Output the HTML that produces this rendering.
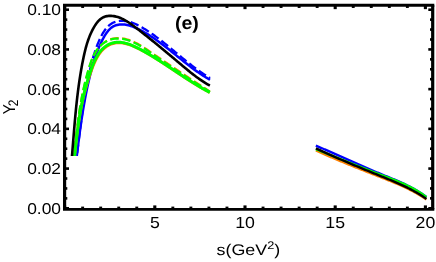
<!DOCTYPE html>
<html><head><meta charset="utf-8"><title>plot</title>
<style>
html,body{margin:0;padding:0;background:#fff;}
svg{display:block;will-change:transform;}
text{font-family:"Liberation Sans",sans-serif;fill:#000;text-rendering:geometricPrecision;}
</style></head>
<body>
<svg width="436" height="262" viewBox="0 0 436 262">
<rect width="436" height="262" fill="#fff"/>
<defs><clipPath id="cl"><rect x="60" y="0" width="160" height="156"/></clipPath></defs>
<g stroke-linecap="butt" stroke-linejoin="round">
<path d="M76.78,155.95 L76.93,154.71 L77.08,153.47 L77.23,152.23 L77.38,150.99 L77.53,149.74 L77.69,148.50 L77.84,147.25 L77.99,146.00 L78.15,144.76 L78.30,143.51 L78.46,142.26 L78.62,141.01 L78.78,139.76 L78.94,138.51 L79.10,137.25 L79.26,136.00 L79.42,134.75 L79.59,133.50 L79.76,132.24 L79.93,130.99 L80.10,129.74 L80.27,128.48 L80.44,127.23 L80.62,125.97 L80.80,124.72 L80.98,123.47 L81.16,122.21 L81.34,120.96 L81.53,119.70 L81.72,118.45 L81.91,117.20 L82.10,115.94 L82.29,114.69 L82.49,113.44 L82.69,112.18 L82.89,110.93 L83.10,109.68 L83.31,108.43 L83.52,107.18 L83.73,105.93 L83.95,104.68 L84.17,103.43 L84.39,102.18 L84.61,100.94 L84.84,99.69 L85.07,98.45 L85.31,97.20 L85.55,95.96 L85.79,94.72 L86.03,93.48 L86.28,92.24 L86.53,91.00 L86.79,89.76 L87.04,88.52 L87.31,87.29 L87.57,86.06 L87.84,84.82 L88.12,83.59 L88.40,82.36 L88.68,81.14 L88.96,79.91 L89.25,78.68 L89.55,77.46 L89.84,76.24 L90.15,75.02 L90.45,73.80 L90.77,72.59 L91.08,71.38 L91.40,70.16 L91.73,68.95 L92.06,67.75 L92.39,66.54 L92.73,65.34 L93.08,64.13 L93.44,62.93 L93.80,61.74 L94.17,60.54 L94.55,59.35 L94.93,58.16 L95.33,56.97 L95.73,55.78 L96.15,54.59 L96.57,53.41 L97.01,52.23 L97.46,51.05 L97.92,49.87 L98.39,48.70 L98.88,47.52 L99.38,46.35 L99.89,45.18 L100.42,44.01 L100.96,42.85 L101.52,41.69 L102.09,40.53 L102.68,39.37 L103.29,38.21 L103.92,37.07 L104.57,35.94 L105.24,34.83 L105.94,33.74 L106.67,32.69 L107.44,31.68 L108.23,30.71 L109.07,29.78 L109.94,28.91 L110.86,28.10 L111.82,27.36 L112.82,26.69 L113.87,26.11 L114.96,25.62 L116.08,25.23 L117.24,24.91 L118.43,24.68 L119.64,24.53 L120.86,24.45 L122.11,24.44 L123.36,24.49 L124.61,24.61 L125.87,24.78 L127.12,25.01 L128.37,25.29 L129.60,25.61 L130.82,25.98 L132.03,26.38 L133.22,26.83 L134.41,27.30 L135.59,27.80 L136.75,28.33 L137.91,28.88 L139.05,29.44 L140.19,30.03 L141.32,30.62 L142.44,31.22 L143.55,31.84 L144.66,32.47 L145.75,33.10 L146.84,33.75 L147.92,34.41 L148.99,35.07 L150.06,35.75 L151.12,36.43 L152.17,37.12 L153.22,37.82 L154.26,38.53 L155.30,39.24 L156.33,39.96 L157.36,40.69 L158.38,41.43 L159.39,42.17 L160.41,42.92 L161.41,43.67 L162.42,44.43 L163.42,45.19 L164.42,45.95 L165.41,46.73 L166.40,47.50 L167.39,48.28 L168.38,49.06 L169.36,49.84 L170.35,50.63 L171.33,51.42 L172.31,52.21 L173.29,53.00 L174.27,53.79 L175.24,54.59 L176.22,55.38 L177.20,56.18 L178.18,56.97 L179.16,57.77 L180.14,58.56 L181.12,59.35 L182.10,60.14 L183.08,60.93 L184.07,61.72 L185.06,62.50 L186.05,63.28 L187.04,64.06 L188.03,64.84 L189.03,65.61 L190.03,66.38 L191.04,67.14 L192.05,67.90 L193.06,68.65 L194.08,69.40 L195.10,70.14 L196.13,70.88 L197.16,71.61 L198.20,72.33 L199.24,73.05 L200.29,73.76 L201.34,74.46 L202.40,75.16 L203.47,75.84 L204.55,76.52 L205.63,77.19 L206.72,77.84 L207.82,78.49 L208.92,79.13 L210.04,79.76" fill="none" stroke="#0000ff" stroke-width="2.5" clip-path="url(#cl)"/>
<path d="M76.78,155.97 L76.94,154.70 L77.10,153.43 L77.26,152.15 L77.42,150.88 L77.57,149.61 L77.73,148.33 L77.89,147.06 L78.05,145.78 L78.21,144.51 L78.37,143.23 L78.52,141.95 L78.68,140.67 L78.84,139.39 L79.00,138.11 L79.16,136.84 L79.32,135.56 L79.48,134.28 L79.64,132.99 L79.80,131.71 L79.97,130.43 L80.13,129.15 L80.30,127.87 L80.46,126.59 L80.63,125.31 L80.80,124.03 L80.97,122.74 L81.14,121.46 L81.31,120.18 L81.48,118.90 L81.66,117.62 L81.83,116.34 L82.01,115.06 L82.19,113.77 L82.37,112.49 L82.56,111.21 L82.74,109.93 L82.93,108.65 L83.12,107.37 L83.31,106.09 L83.50,104.82 L83.70,103.54 L83.90,102.26 L84.10,100.98 L84.30,99.71 L84.51,98.43 L84.72,97.16 L84.93,95.88 L85.14,94.61 L85.36,93.34 L85.58,92.06 L85.80,90.79 L86.03,89.52 L86.26,88.25 L86.49,86.99 L86.72,85.72 L86.96,84.45 L87.20,83.19 L87.45,81.92 L87.70,80.66 L87.95,79.40 L88.21,78.14 L88.47,76.88 L88.73,75.62 L89.00,74.36 L89.27,73.11 L89.55,71.85 L89.83,70.60 L90.11,69.35 L90.40,68.10 L90.69,66.85 L90.99,65.60 L91.30,64.36 L91.61,63.11 L91.93,61.87 L92.26,60.63 L92.59,59.40 L92.93,58.16 L93.28,56.93 L93.65,55.69 L94.02,54.47 L94.40,53.24 L94.79,52.01 L95.19,50.79 L95.61,49.57 L96.04,48.36 L96.48,47.14 L96.94,45.93 L97.41,44.72 L97.89,43.52 L98.39,42.32 L98.90,41.12 L99.43,39.92 L99.98,38.73 L100.54,37.54 L101.13,36.36 L101.74,35.20 L102.37,34.06 L103.02,32.94 L103.71,31.84 L104.42,30.77 L105.17,29.73 L105.94,28.73 L106.76,27.77 L107.61,26.86 L108.49,25.99 L109.42,25.18 L110.39,24.42 L111.40,23.73 L112.45,23.10 L113.55,22.54 L114.69,22.07 L115.88,21.67 L117.11,21.35 L118.38,21.11 L119.67,20.95 L120.98,20.86 L122.30,20.83 L123.63,20.88 L124.95,20.99 L126.26,21.15 L127.55,21.38 L128.82,21.66 L130.07,21.99 L131.30,22.37 L132.52,22.79 L133.73,23.25 L134.92,23.75 L136.10,24.28 L137.26,24.85 L138.42,25.43 L139.56,26.04 L140.69,26.67 L141.81,27.32 L142.93,27.98 L144.04,28.65 L145.14,29.33 L146.23,30.01 L147.32,30.71 L148.40,31.42 L149.47,32.13 L150.54,32.85 L151.60,33.58 L152.65,34.31 L153.70,35.06 L154.75,35.81 L155.79,36.56 L156.83,37.33 L157.86,38.10 L158.88,38.87 L159.91,39.65 L160.93,40.43 L161.94,41.22 L162.95,42.02 L163.96,42.81 L164.97,43.61 L165.97,44.42 L166.98,45.23 L167.98,46.04 L168.97,46.85 L169.97,47.67 L170.96,48.48 L171.96,49.30 L172.95,50.12 L173.94,50.95 L174.93,51.77 L175.92,52.59 L176.91,53.41 L177.91,54.24 L178.90,55.06 L179.89,55.88 L180.88,56.70 L181.88,57.52 L182.87,58.34 L183.87,59.15 L184.87,59.97 L185.87,60.78 L186.88,61.58 L187.89,62.39 L188.89,63.19 L189.91,63.99 L190.92,64.78 L191.94,65.57 L192.97,66.35 L193.99,67.13 L195.03,67.91 L196.06,68.68 L197.10,69.44 L198.15,70.20 L199.20,70.95 L200.26,71.69 L201.32,72.43 L202.39,73.15 L203.46,73.88 L204.54,74.59 L205.63,75.29 L206.72,75.99 L207.83,76.68 L208.93,77.36 L210.05,78.02" fill="none" stroke="#0000ff" stroke-width="2.3" stroke-dasharray="8.5 3.5" stroke-dashoffset="9.0" clip-path="url(#cl)"/>
<path d="M74.60,156.15 L74.72,154.94 L74.83,153.73 L74.95,152.52 L75.07,151.32 L75.19,150.12 L75.31,148.92 L75.44,147.73 L75.56,146.53 L75.69,145.35 L75.82,144.16 L75.94,142.98 L76.08,141.80 L76.21,140.62 L76.34,139.44 L76.48,138.27 L76.62,137.10 L76.76,135.93 L76.90,134.76 L77.05,133.60 L77.20,132.44 L77.35,131.28 L77.50,130.12 L77.66,128.96 L77.82,127.81 L77.98,126.66 L78.14,125.51 L78.31,124.36 L78.48,123.21 L78.66,122.06 L78.83,120.92 L79.01,119.78 L79.20,118.63 L79.39,117.49 L79.58,116.35 L79.77,115.21 L79.97,114.08 L80.18,112.94 L80.38,111.80 L80.59,110.67 L80.81,109.53 L81.03,108.40 L81.25,107.27 L81.48,106.14 L81.72,105.00 L81.95,103.87 L82.20,102.74 L82.44,101.61 L82.70,100.48 L82.95,99.35 L83.22,98.22 L83.48,97.09 L83.76,95.96 L84.04,94.83 L84.32,93.70 L84.61,92.57 L84.90,91.43 L85.20,90.30 L85.51,89.17 L85.82,88.04 L86.14,86.90 L86.46,85.77 L86.80,84.64 L87.13,83.50 L87.48,82.36 L87.82,81.23 L88.18,80.09 L88.54,78.95 L88.91,77.81 L89.29,76.67 L89.67,75.53 L90.06,74.38 L90.46,73.24 L90.86,72.09 L91.27,70.94 L91.69,69.79 L92.12,68.64 L92.55,67.49 L93.00,66.35 L93.46,65.21 L93.93,64.07 L94.41,62.95 L94.91,61.84 L95.43,60.73 L95.96,59.65 L96.51,58.58 L97.08,57.53 L97.67,56.50 L98.28,55.49 L98.92,54.50 L99.58,53.55 L100.26,52.62 L100.97,51.71 L101.71,50.84 L102.48,50.01 L103.28,49.21 L104.11,48.45 L104.97,47.72 L105.86,47.04 L106.79,46.40 L107.74,45.80 L108.72,45.26 L109.72,44.76 L110.75,44.31 L111.80,43.92 L112.86,43.58 L113.95,43.30 L115.04,43.07 L116.16,42.91 L117.28,42.81 L118.41,42.76 L119.56,42.76 L120.70,42.82 L121.86,42.93 L123.01,43.08 L124.17,43.28 L125.32,43.52 L126.48,43.80 L127.62,44.11 L128.77,44.46 L129.90,44.84 L131.03,45.25 L132.14,45.68 L133.25,46.15 L134.35,46.63 L135.44,47.13 L136.53,47.65 L137.60,48.18 L138.68,48.73 L139.74,49.28 L140.80,49.84 L141.86,50.41 L142.91,50.98 L143.95,51.56 L144.99,52.14 L146.02,52.72 L147.05,53.31 L148.08,53.90 L149.10,54.50 L150.12,55.10 L151.13,55.71 L152.14,56.31 L153.15,56.93 L154.15,57.54 L155.15,58.16 L156.15,58.78 L157.14,59.40 L158.13,60.03 L159.12,60.66 L160.11,61.29 L161.09,61.92 L162.07,62.55 L163.05,63.19 L164.03,63.83 L165.01,64.47 L165.98,65.11 L166.95,65.75 L167.93,66.39 L168.90,67.04 L169.87,67.68 L170.84,68.33 L171.80,68.98 L172.77,69.62 L173.74,70.27 L174.71,70.92 L175.68,71.57 L176.65,72.21 L177.61,72.86 L178.58,73.51 L179.55,74.15 L180.52,74.80 L181.50,75.44 L182.47,76.08 L183.44,76.72 L184.42,77.36 L185.40,78.00 L186.38,78.64 L187.36,79.28 L188.34,79.91 L189.33,80.54 L190.31,81.17 L191.30,81.80 L192.30,82.42 L193.29,83.04 L194.29,83.66 L195.30,84.27 L196.30,84.89 L197.31,85.50 L198.33,86.10 L199.34,86.70 L200.36,87.30 L201.39,87.89 L202.42,88.49 L203.45,89.07 L204.49,89.65 L205.54,90.23 L206.58,90.80 L207.64,91.37 L208.70,91.93 L209.76,92.49" fill="none" stroke="#ff8000" stroke-width="2.8" clip-path="url(#cl)"/>
<path d="M74.61,156.11 L74.70,154.87 L74.79,153.63 L74.89,152.39 L74.98,151.15 L75.08,149.92 L75.18,148.68 L75.28,147.45 L75.38,146.23 L75.48,145.00 L75.59,143.78 L75.70,142.56 L75.81,141.34 L75.92,140.12 L76.03,138.91 L76.15,137.70 L76.27,136.49 L76.39,135.28 L76.51,134.07 L76.64,132.87 L76.77,131.66 L76.90,130.46 L77.04,129.26 L77.17,128.06 L77.31,126.86 L77.46,125.67 L77.60,124.47 L77.75,123.28 L77.90,122.09 L78.06,120.90 L78.22,119.71 L78.38,118.52 L78.54,117.33 L78.71,116.14 L78.88,114.96 L79.06,113.77 L79.24,112.58 L79.42,111.40 L79.61,110.22 L79.80,109.03 L79.99,107.85 L80.19,106.67 L80.39,105.49 L80.60,104.30 L80.81,103.12 L81.02,101.94 L81.24,100.76 L81.46,99.58 L81.69,98.40 L81.92,97.22 L82.15,96.04 L82.39,94.86 L82.64,93.68 L82.89,92.49 L83.14,91.31 L83.40,90.13 L83.66,88.95 L83.93,87.77 L84.21,86.58 L84.48,85.40 L84.77,84.21 L85.06,83.03 L85.35,81.84 L85.65,80.65 L85.95,79.47 L86.26,78.28 L86.58,77.09 L86.90,75.89 L87.23,74.70 L87.56,73.51 L87.90,72.31 L88.24,71.12 L88.59,69.92 L88.94,68.72 L89.31,67.52 L89.68,66.33 L90.06,65.13 L90.45,63.94 L90.86,62.76 L91.27,61.58 L91.71,60.41 L92.16,59.26 L92.63,58.11 L93.12,56.98 L93.64,55.87 L94.17,54.77 L94.74,53.69 L95.32,52.63 L95.94,51.59 L96.58,50.58 L97.26,49.59 L97.96,48.62 L98.71,47.69 L99.48,46.79 L100.29,45.91 L101.13,45.07 L102.01,44.27 L102.91,43.51 L103.84,42.79 L104.80,42.11 L105.79,41.48 L106.80,40.90 L107.84,40.37 L108.89,39.89 L109.97,39.47 L111.07,39.10 L112.19,38.80 L113.32,38.55 L114.47,38.36 L115.63,38.23 L116.80,38.15 L117.98,38.12 L119.17,38.15 L120.36,38.22 L121.55,38.33 L122.75,38.50 L123.95,38.70 L125.14,38.94 L126.33,39.23 L127.51,39.55 L128.69,39.91 L129.85,40.30 L131.00,40.72 L132.15,41.18 L133.28,41.66 L134.40,42.17 L135.50,42.70 L136.60,43.26 L137.70,43.84 L138.78,44.44 L139.85,45.06 L140.92,45.69 L141.98,46.34 L143.03,47.00 L144.08,47.67 L145.12,48.35 L146.16,49.04 L147.19,49.73 L148.22,50.43 L149.25,51.13 L150.27,51.83 L151.29,52.52 L152.31,53.22 L153.32,53.91 L154.34,54.60 L155.35,55.29 L156.36,55.98 L157.37,56.67 L158.38,57.35 L159.38,58.03 L160.39,58.71 L161.39,59.39 L162.39,60.07 L163.39,60.75 L164.39,61.42 L165.39,62.10 L166.39,62.77 L167.39,63.44 L168.38,64.11 L169.38,64.78 L170.37,65.45 L171.37,66.12 L172.37,66.79 L173.36,67.45 L174.35,68.12 L175.35,68.78 L176.34,69.45 L177.34,70.11 L178.33,70.77 L179.33,71.44 L180.33,72.10 L181.32,72.76 L182.32,73.43 L183.32,74.09 L184.32,74.75 L185.32,75.41 L186.32,76.07 L187.32,76.74 L188.32,77.40 L189.33,78.06 L190.33,78.73 L191.34,79.39 L192.35,80.06 L193.36,80.72 L194.37,81.39 L195.38,82.05 L196.40,82.72 L197.42,83.39 L198.44,84.06 L199.46,84.73 L200.49,85.40 L201.51,86.07 L202.54,86.74 L203.57,87.42 L204.61,88.09 L205.65,88.77 L206.69,89.45 L207.73,90.13 L208.78,90.81 L209.82,91.50" fill="none" stroke="#ff8000" stroke-width="2.2" stroke-dasharray="8.5 3.5" stroke-dashoffset="5.5" clip-path="url(#cl)"/>
<path d="M74.53,156.16 L74.66,154.94 L74.80,153.72 L74.94,152.51 L75.07,151.30 L75.21,150.09 L75.34,148.89 L75.48,147.69 L75.61,146.49 L75.75,145.30 L75.89,144.11 L76.03,142.92 L76.16,141.73 L76.30,140.55 L76.44,139.37 L76.58,138.19 L76.72,137.01 L76.87,135.84 L77.01,134.67 L77.16,133.50 L77.31,132.33 L77.46,131.17 L77.61,130.00 L77.76,128.84 L77.92,127.68 L78.07,126.52 L78.23,125.37 L78.40,124.21 L78.56,123.06 L78.73,121.91 L78.90,120.76 L79.07,119.61 L79.25,118.46 L79.43,117.32 L79.61,116.17 L79.80,115.03 L79.99,113.88 L80.18,112.74 L80.38,111.60 L80.58,110.46 L80.78,109.32 L80.99,108.18 L81.20,107.04 L81.42,105.90 L81.64,104.76 L81.86,103.62 L82.09,102.49 L82.33,101.35 L82.57,100.21 L82.81,99.07 L83.06,97.94 L83.32,96.80 L83.58,95.66 L83.84,94.52 L84.11,93.39 L84.39,92.25 L84.67,91.11 L84.96,89.97 L85.25,88.83 L85.55,87.69 L85.86,86.55 L86.17,85.41 L86.49,84.26 L86.82,83.12 L87.15,81.97 L87.49,80.83 L87.83,79.68 L88.19,78.53 L88.55,77.38 L88.91,76.23 L89.29,75.08 L89.67,73.93 L90.06,72.77 L90.46,71.61 L90.86,70.45 L91.27,69.29 L91.69,68.13 L92.13,66.97 L92.57,65.82 L93.02,64.67 L93.49,63.52 L93.97,62.39 L94.47,61.26 L94.98,60.15 L95.52,59.06 L96.07,57.98 L96.64,56.92 L97.23,55.88 L97.85,54.87 L98.48,53.88 L99.15,52.91 L99.84,51.98 L100.55,51.07 L101.30,50.20 L102.07,49.36 L102.88,48.56 L103.71,47.80 L104.58,47.08 L105.48,46.40 L106.42,45.76 L107.38,45.18 L108.36,44.64 L109.38,44.15 L110.41,43.71 L111.47,43.32 L112.54,43.00 L113.63,42.73 L114.74,42.52 L115.86,42.37 L116.99,42.28 L118.13,42.24 L119.27,42.26 L120.43,42.34 L121.59,42.46 L122.75,42.62 L123.91,42.83 L125.07,43.09 L126.23,43.38 L127.38,43.70 L128.52,44.06 L129.66,44.45 L130.79,44.87 L131.91,45.32 L133.02,45.79 L134.12,46.28 L135.22,46.79 L136.31,47.32 L137.39,47.86 L138.46,48.41 L139.53,48.97 L140.60,49.53 L141.66,50.10 L142.71,50.68 L143.76,51.26 L144.80,51.84 L145.84,52.43 L146.87,53.02 L147.90,53.62 L148.93,54.22 L149.95,54.82 L150.97,55.42 L151.99,56.03 L153.00,56.65 L154.00,57.26 L155.01,57.88 L156.01,58.50 L157.01,59.13 L158.00,59.75 L159.00,60.38 L159.99,61.01 L160.97,61.65 L161.96,62.28 L162.94,62.92 L163.93,63.56 L164.91,64.20 L165.88,64.84 L166.86,65.48 L167.84,66.12 L168.81,66.77 L169.79,67.42 L170.76,68.06 L171.73,68.71 L172.71,69.36 L173.68,70.01 L174.65,70.65 L175.62,71.30 L176.60,71.95 L177.57,72.60 L178.54,73.25 L179.52,73.89 L180.49,74.54 L181.47,75.19 L182.44,75.83 L183.42,76.48 L184.40,77.12 L185.38,77.76 L186.36,78.40 L187.35,79.04 L188.34,79.68 L189.32,80.32 L190.32,80.95 L191.31,81.58 L192.31,82.21 L193.31,82.84 L194.31,83.46 L195.31,84.08 L196.32,84.70 L197.33,85.32 L198.35,85.93 L199.37,86.54 L200.39,87.15 L201.42,87.75 L202.45,88.35 L203.49,88.95 L204.53,89.54 L205.58,90.13 L206.63,90.72 L207.68,91.30 L208.74,91.87 L209.81,92.45" fill="none" stroke="#00ff00" stroke-width="3.0" clip-path="url(#cl)"/>
<path d="M74.57,156.11 L74.67,154.86 L74.77,153.63 L74.88,152.39 L74.98,151.16 L75.09,149.93 L75.19,148.70 L75.30,147.47 L75.41,146.25 L75.52,145.03 L75.63,143.81 L75.74,142.59 L75.86,141.37 L75.97,140.16 L76.09,138.95 L76.21,137.74 L76.33,136.53 L76.45,135.32 L76.57,134.12 L76.70,132.91 L76.82,131.71 L76.95,130.51 L77.09,129.31 L77.22,128.12 L77.36,126.92 L77.50,125.73 L77.64,124.53 L77.78,123.34 L77.93,122.15 L78.08,120.96 L78.23,119.77 L78.39,118.58 L78.54,117.39 L78.71,116.21 L78.87,115.02 L79.04,113.83 L79.21,112.65 L79.39,111.47 L79.56,110.28 L79.75,109.10 L79.93,107.92 L80.12,106.74 L80.31,105.55 L80.51,104.37 L80.71,103.19 L80.92,102.01 L81.13,100.83 L81.34,99.65 L81.56,98.47 L81.78,97.29 L82.01,96.11 L82.24,94.93 L82.48,93.74 L82.72,92.56 L82.96,91.38 L83.22,90.20 L83.47,89.02 L83.73,87.83 L84.00,86.65 L84.27,85.46 L84.55,84.28 L84.83,83.09 L85.12,81.91 L85.41,80.72 L85.71,79.53 L86.01,78.34 L86.32,77.15 L86.64,75.96 L86.96,74.77 L87.29,73.58 L87.62,72.38 L87.96,71.19 L88.31,69.99 L88.67,68.79 L89.03,67.59 L89.40,66.40 L89.78,65.20 L90.17,64.02 L90.58,62.83 L91.00,61.66 L91.44,60.50 L91.90,59.34 L92.37,58.20 L92.87,57.08 L93.39,55.97 L93.93,54.88 L94.50,53.81 L95.09,52.75 L95.71,51.72 L96.37,50.72 L97.05,49.74 L97.76,48.78 L98.51,47.86 L99.29,46.96 L100.11,46.10 L100.96,45.27 L101.84,44.48 L102.74,43.73 L103.68,43.03 L104.65,42.36 L105.63,41.74 L106.65,41.18 L107.69,40.66 L108.74,40.19 L109.82,39.79 L110.92,39.44 L112.04,39.15 L113.17,38.92 L114.32,38.74 L115.48,38.62 L116.65,38.55 L117.82,38.53 L119.01,38.56 L120.20,38.64 L121.39,38.77 L122.58,38.94 L123.78,39.15 L124.97,39.40 L126.15,39.69 L127.33,40.01 L128.50,40.38 L129.67,40.77 L130.82,41.20 L131.96,41.66 L133.09,42.14 L134.21,42.65 L135.32,43.19 L136.42,43.75 L137.51,44.33 L138.59,44.93 L139.67,45.55 L140.73,46.18 L141.80,46.83 L142.85,47.49 L143.90,48.16 L144.94,48.84 L145.98,49.53 L147.01,50.23 L148.04,50.92 L149.07,51.62 L150.09,52.32 L151.11,53.02 L152.12,53.72 L153.14,54.41 L154.15,55.11 L155.16,55.80 L156.16,56.49 L157.17,57.18 L158.17,57.86 L159.17,58.55 L160.17,59.23 L161.17,59.92 L162.16,60.60 L163.16,61.28 L164.15,61.96 L165.14,62.64 L166.14,63.31 L167.13,63.99 L168.12,64.66 L169.11,65.33 L170.10,66.00 L171.08,66.67 L172.07,67.34 L173.06,68.01 L174.05,68.68 L175.04,69.35 L176.03,70.01 L177.02,70.68 L178.01,71.34 L179.00,72.00 L179.99,72.66 L180.99,73.33 L181.98,73.99 L182.98,74.65 L183.97,75.30 L184.97,75.96 L185.97,76.62 L186.98,77.28 L187.98,77.94 L188.99,78.59 L189.99,79.25 L191.00,79.90 L192.02,80.56 L193.03,81.21 L194.05,81.87 L195.07,82.52 L196.09,83.17 L197.12,83.83 L198.15,84.48 L199.19,85.13 L200.22,85.78 L201.26,86.44 L202.31,87.09 L203.35,87.74 L204.41,88.39 L205.46,89.05 L206.52,89.70 L207.59,90.35 L208.66,91.00 L209.73,91.66" fill="none" stroke="#00ff00" stroke-width="2.2" stroke-dasharray="8.5 3.5" stroke-dashoffset="5.5" clip-path="url(#cl)"/>
<path d="M71.97,156.00 L72.09,154.62 L72.20,153.25 L72.32,151.87 L72.43,150.49 L72.54,149.11 L72.65,147.73 L72.77,146.35 L72.88,144.97 L72.99,143.59 L73.10,142.21 L73.21,140.83 L73.32,139.45 L73.44,138.07 L73.55,136.69 L73.66,135.31 L73.77,133.93 L73.89,132.55 L74.00,131.17 L74.11,129.79 L74.23,128.40 L74.35,127.02 L74.46,125.64 L74.58,124.26 L74.70,122.88 L74.82,121.50 L74.95,120.12 L75.07,118.74 L75.19,117.36 L75.32,115.97 L75.45,114.59 L75.58,113.21 L75.71,111.83 L75.85,110.45 L75.98,109.08 L76.12,107.70 L76.26,106.32 L76.41,104.94 L76.55,103.56 L76.70,102.18 L76.85,100.81 L77.01,99.43 L77.16,98.05 L77.32,96.68 L77.49,95.30 L77.65,93.93 L77.82,92.55 L77.99,91.18 L78.17,89.81 L78.35,88.43 L78.53,87.06 L78.71,85.69 L78.90,84.32 L79.10,82.95 L79.30,81.58 L79.50,80.21 L79.70,78.85 L79.91,77.48 L80.13,76.11 L80.35,74.75 L80.57,73.39 L80.80,72.02 L81.03,70.66 L81.26,69.30 L81.51,67.94 L81.75,66.58 L82.00,65.22 L82.26,63.86 L82.52,62.51 L82.79,61.15 L83.06,59.80 L83.34,58.44 L83.62,57.09 L83.91,55.74 L84.21,54.39 L84.52,53.05 L84.83,51.70 L85.16,50.36 L85.50,49.02 L85.85,47.68 L86.21,46.35 L86.60,45.01 L86.99,43.69 L87.41,42.36 L87.84,41.04 L88.30,39.73 L88.77,38.41 L89.27,37.11 L89.79,35.81 L90.33,34.51 L90.90,33.22 L91.50,31.93 L92.13,30.65 L92.78,29.38 L93.46,28.11 L94.18,26.86 L94.93,25.64 L95.71,24.44 L96.53,23.29 L97.39,22.20 L98.29,21.16 L99.24,20.19 L100.22,19.31 L101.26,18.51 L102.33,17.81 L103.46,17.22 L104.64,16.73 L105.86,16.36 L107.12,16.09 L108.41,15.92 L109.72,15.85 L111.06,15.86 L112.41,15.96 L113.77,16.13 L115.13,16.38 L116.49,16.71 L117.85,17.09 L119.18,17.54 L120.50,18.04 L121.80,18.60 L123.07,19.20 L124.32,19.85 L125.55,20.53 L126.76,21.25 L127.95,22.00 L129.13,22.78 L130.29,23.58 L131.44,24.40 L132.58,25.23 L133.71,26.08 L134.83,26.93 L135.95,27.78 L137.07,28.63 L138.18,29.49 L139.28,30.34 L140.38,31.20 L141.48,32.05 L142.57,32.91 L143.66,33.76 L144.75,34.62 L145.83,35.48 L146.91,36.33 L147.99,37.19 L149.06,38.05 L150.13,38.91 L151.20,39.77 L152.27,40.63 L153.34,41.49 L154.40,42.36 L155.46,43.22 L156.52,44.09 L157.58,44.95 L158.63,45.82 L159.69,46.69 L160.75,47.56 L161.80,48.43 L162.85,49.30 L163.91,50.17 L164.96,51.05 L166.01,51.92 L167.06,52.80 L168.12,53.68 L169.17,54.56 L170.22,55.44 L171.28,56.32 L172.33,57.21 L173.39,58.10 L174.45,58.98 L175.50,59.87 L176.57,60.76 L177.63,61.66 L178.69,62.55 L179.76,63.45 L180.82,64.35 L181.89,65.25 L182.97,66.15 L184.04,67.05 L185.12,67.95 L186.20,68.85 L187.28,69.74 L188.37,70.63 L189.46,71.52 L190.55,72.40 L191.65,73.27 L192.75,74.13 L193.86,74.99 L194.97,75.84 L196.09,76.67 L197.20,77.50 L198.33,78.31 L199.46,79.11 L200.59,79.89 L201.73,80.66 L202.87,81.42 L204.02,82.16 L205.18,82.88 L206.34,83.58 L207.51,84.26 L208.68,84.92 L209.86,85.56" fill="none" stroke="#000" stroke-width="2.6" clip-path="url(#cl)"/>
<path d="M315.92,150.50 L316.47,150.75 L317.02,150.99 L317.56,151.24 L318.11,151.48 L318.66,151.73 L319.20,151.97 L319.75,152.22 L320.30,152.46 L320.85,152.71 L321.40,152.95 L321.95,153.19 L322.50,153.44 L323.06,153.68 L323.61,153.92 L324.16,154.16 L324.71,154.41 L325.27,154.65 L325.82,154.89 L326.37,155.13 L326.93,155.37 L327.48,155.61 L328.04,155.85 L328.59,156.09 L329.15,156.33 L329.71,156.57 L330.26,156.81 L330.82,157.04 L331.38,157.28 L331.94,157.52 L332.49,157.76 L333.05,158.00 L333.61,158.23 L334.17,158.47 L334.73,158.71 L335.29,158.94 L335.85,159.18 L336.41,159.41 L336.97,159.65 L337.53,159.88 L338.10,160.12 L338.66,160.35 L339.22,160.59 L339.78,160.82 L340.35,161.06 L340.91,161.29 L341.47,161.52 L342.03,161.76 L342.60,161.99 L343.16,162.22 L343.73,162.45 L344.29,162.69 L344.86,162.92 L345.42,163.15 L345.99,163.38 L346.55,163.61 L347.12,163.84 L347.68,164.08 L348.25,164.31 L348.81,164.54 L349.38,164.77 L349.95,165.00 L350.51,165.23 L351.08,165.46 L351.65,165.69 L352.21,165.92 L352.78,166.14 L353.35,166.37 L353.92,166.60 L354.48,166.83 L355.05,167.06 L355.62,167.29 L356.19,167.51 L356.75,167.74 L357.32,167.97 L357.89,168.20 L358.46,168.42 L359.03,168.65 L359.59,168.88 L360.16,169.10 L360.73,169.33 L361.30,169.56 L361.87,169.78 L362.44,170.01 L363.01,170.24 L363.57,170.46 L364.14,170.69 L364.71,170.91 L365.28,171.14 L365.85,171.36 L366.42,171.59 L366.99,171.81 L367.55,172.04 L368.12,172.26 L368.69,172.48 L369.26,172.71 L369.83,172.93 L370.40,173.16 L370.96,173.38 L371.53,173.60 L372.10,173.83 L372.67,174.05 L373.24,174.28 L373.81,174.50 L374.37,174.72 L374.94,174.94 L375.51,175.17 L376.08,175.39 L376.64,175.61 L377.21,175.84 L377.78,176.06 L378.34,176.28 L378.91,176.50 L379.48,176.72 L380.05,176.95 L380.61,177.17 L381.18,177.39 L381.74,177.61 L382.31,177.83 L382.88,178.06 L383.44,178.28 L384.01,178.50 L384.57,178.72 L385.14,178.95 L385.70,179.17 L386.26,179.39 L386.83,179.62 L387.39,179.84 L387.96,180.06 L388.52,180.29 L389.08,180.51 L389.64,180.74 L390.20,180.97 L390.77,181.19 L391.33,181.42 L391.89,181.65 L392.45,181.88 L393.01,182.11 L393.57,182.34 L394.13,182.57 L394.69,182.80 L395.24,183.04 L395.80,183.27 L396.36,183.51 L396.91,183.74 L397.47,183.98 L398.03,184.22 L398.58,184.46 L399.14,184.70 L399.69,184.94 L400.24,185.19 L400.80,185.43 L401.35,185.68 L401.90,185.92 L402.45,186.17 L403.00,186.42 L403.55,186.68 L404.10,186.93 L404.65,187.18 L405.20,187.44 L405.74,187.70 L406.29,187.96 L406.83,188.22 L407.38,188.48 L407.92,188.75 L408.47,189.02 L409.01,189.29 L409.55,189.56 L410.09,189.83 L410.63,190.10 L411.17,190.38 L411.71,190.66 L412.25,190.94 L412.78,191.23 L413.32,191.51 L413.85,191.80 L414.39,192.09 L414.92,192.38 L415.45,192.68 L415.99,192.98 L416.52,193.27 L417.05,193.58 L417.57,193.88 L418.10,194.19 L418.63,194.50 L419.15,194.81 L419.68,195.13 L420.20,195.45 L420.72,195.77 L421.25,196.09 L421.77,196.42 L422.29,196.75 L422.80,197.08 L423.32,197.41 L423.84,197.75 L424.35,198.09 L424.87,198.44 L425.38,198.78 L425.89,199.13 L426.40,199.49" fill="none" stroke="#ff8000" stroke-width="2.4"/>
<path d="M315.85,145.71 L316.41,145.94 L316.96,146.17 L317.52,146.40 L318.08,146.64 L318.64,146.87 L319.19,147.10 L319.75,147.34 L320.31,147.57 L320.87,147.81 L321.42,148.04 L321.98,148.28 L322.54,148.52 L323.10,148.75 L323.66,148.99 L324.21,149.23 L324.77,149.47 L325.33,149.71 L325.89,149.95 L326.45,150.19 L327.01,150.43 L327.57,150.68 L328.13,150.92 L328.69,151.16 L329.25,151.41 L329.81,151.65 L330.37,151.89 L330.93,152.14 L331.49,152.38 L332.05,152.63 L332.61,152.88 L333.17,153.12 L333.73,153.37 L334.29,153.62 L334.85,153.86 L335.41,154.11 L335.97,154.36 L336.53,154.61 L337.09,154.86 L337.65,155.11 L338.21,155.35 L338.77,155.60 L339.34,155.85 L339.90,156.10 L340.46,156.35 L341.02,156.60 L341.58,156.85 L342.14,157.11 L342.71,157.36 L343.27,157.61 L343.83,157.86 L344.39,158.11 L344.95,158.36 L345.52,158.61 L346.08,158.86 L346.64,159.12 L347.21,159.37 L347.77,159.62 L348.33,159.87 L348.89,160.12 L349.46,160.37 L350.02,160.63 L350.58,160.88 L351.15,161.13 L351.71,161.38 L352.27,161.63 L352.84,161.89 L353.40,162.14 L353.96,162.39 L354.53,162.64 L355.09,162.89 L355.66,163.14 L356.22,163.39 L356.78,163.65 L357.35,163.90 L357.91,164.15 L358.48,164.40 L359.04,164.65 L359.61,164.90 L360.17,165.15 L360.74,165.40 L361.30,165.65 L361.87,165.90 L362.43,166.15 L363.00,166.39 L363.56,166.64 L364.13,166.89 L364.69,167.14 L365.26,167.39 L365.82,167.63 L366.39,167.88 L366.95,168.13 L367.52,168.37 L368.08,168.62 L368.65,168.86 L369.22,169.11 L369.78,169.35 L370.35,169.60 L370.91,169.84 L371.48,170.08 L372.05,170.33 L372.61,170.57 L373.18,170.81 L373.74,171.05 L374.31,171.29 L374.88,171.53 L375.44,171.77 L376.01,172.01 L376.58,172.25 L377.14,172.49 L377.71,172.73 L378.28,172.96 L378.84,173.20 L379.41,173.44 L379.98,173.67 L380.54,173.91 L381.11,174.14 L381.68,174.37 L382.24,174.60 L382.81,174.84 L383.38,175.07 L383.94,175.30 L384.51,175.53 L385.08,175.76 L385.64,175.99 L386.21,176.23 L386.78,176.46 L387.34,176.69 L387.91,176.92 L388.47,177.15 L389.04,177.38 L389.61,177.61 L390.17,177.84 L390.73,178.08 L391.30,178.31 L391.86,178.54 L392.43,178.78 L392.99,179.01 L393.55,179.25 L394.12,179.48 L394.68,179.72 L395.24,179.95 L395.80,180.19 L396.36,180.43 L396.92,180.67 L397.48,180.91 L398.04,181.16 L398.60,181.40 L399.16,181.64 L399.71,181.89 L400.27,182.14 L400.83,182.38 L401.38,182.63 L401.94,182.89 L402.49,183.14 L403.04,183.39 L403.60,183.65 L404.15,183.91 L404.70,184.17 L405.25,184.43 L405.80,184.69 L406.35,184.96 L406.90,185.23 L407.44,185.50 L407.99,185.77 L408.53,186.04 L409.08,186.32 L409.62,186.60 L410.16,186.88 L410.70,187.16 L411.25,187.45 L411.78,187.73 L412.32,188.02 L412.86,188.32 L413.40,188.61 L413.93,188.91 L414.47,189.21 L415.00,189.52 L415.53,189.83 L416.06,190.14 L416.59,190.45 L417.12,190.77 L417.64,191.09 L418.17,191.41 L418.69,191.73 L419.22,192.06 L419.74,192.40 L420.26,192.73 L420.78,193.07 L421.30,193.42 L421.81,193.76 L422.33,194.11 L422.84,194.47 L423.35,194.83 L423.86,195.19 L424.37,195.55 L424.88,195.92 L425.39,196.30 L425.89,196.67 L426.39,197.06" fill="none" stroke="#0000ff" stroke-width="2.4"/>
<path d="M315.88,149.09 L316.44,149.31 L316.99,149.54 L317.54,149.77 L318.10,149.99 L318.65,150.22 L319.21,150.45 L319.76,150.67 L320.32,150.90 L320.87,151.13 L321.43,151.35 L321.99,151.58 L322.54,151.81 L323.10,152.03 L323.66,152.26 L324.22,152.49 L324.77,152.72 L325.33,152.94 L325.89,153.17 L326.45,153.40 L327.01,153.62 L327.57,153.85 L328.13,154.08 L328.69,154.31 L329.25,154.53 L329.81,154.76 L330.37,154.99 L330.93,155.22 L331.49,155.44 L332.05,155.67 L332.61,155.90 L333.17,156.12 L333.73,156.35 L334.30,156.58 L334.86,156.81 L335.42,157.03 L335.98,157.26 L336.55,157.49 L337.11,157.71 L337.67,157.94 L338.24,158.17 L338.80,158.39 L339.36,158.62 L339.93,158.85 L340.49,159.08 L341.05,159.30 L341.62,159.53 L342.18,159.75 L342.75,159.98 L343.31,160.21 L343.88,160.43 L344.44,160.66 L345.01,160.89 L345.58,161.11 L346.14,161.34 L346.71,161.56 L347.27,161.79 L347.84,162.01 L348.41,162.24 L348.97,162.47 L349.54,162.69 L350.11,162.92 L350.67,163.14 L351.24,163.37 L351.81,163.59 L352.37,163.81 L352.94,164.04 L353.51,164.26 L354.08,164.49 L354.64,164.71 L355.21,164.94 L355.78,165.16 L356.35,165.38 L356.91,165.61 L357.48,165.83 L358.05,166.05 L358.62,166.28 L359.19,166.50 L359.76,166.72 L360.32,166.94 L360.89,167.16 L361.46,167.39 L362.03,167.61 L362.60,167.83 L363.17,168.05 L363.74,168.27 L364.31,168.49 L364.87,168.71 L365.44,168.94 L366.01,169.16 L366.58,169.38 L367.15,169.60 L367.72,169.82 L368.29,170.03 L368.86,170.25 L369.43,170.47 L370.00,170.69 L370.56,170.91 L371.13,171.13 L371.70,171.35 L372.27,171.56 L372.84,171.78 L373.41,172.00 L373.98,172.22 L374.55,172.43 L375.12,172.65 L375.69,172.86 L376.26,173.08 L376.83,173.30 L377.39,173.51 L377.96,173.73 L378.53,173.94 L379.10,174.16 L379.67,174.37 L380.24,174.58 L380.81,174.80 L381.38,175.01 L381.95,175.22 L382.51,175.44 L383.08,175.65 L383.65,175.86 L384.22,176.08 L384.79,176.29 L385.35,176.50 L385.92,176.72 L386.49,176.93 L387.06,177.14 L387.62,177.36 L388.19,177.57 L388.76,177.79 L389.32,178.00 L389.89,178.22 L390.45,178.44 L391.02,178.65 L391.58,178.87 L392.14,179.09 L392.71,179.31 L393.27,179.53 L393.83,179.75 L394.39,179.97 L394.95,180.20 L395.52,180.42 L396.08,180.65 L396.63,180.88 L397.19,181.10 L397.75,181.33 L398.31,181.56 L398.87,181.80 L399.42,182.03 L399.98,182.27 L400.53,182.50 L401.09,182.74 L401.64,182.98 L402.19,183.22 L402.74,183.47 L403.29,183.71 L403.84,183.96 L404.39,184.21 L404.94,184.46 L405.49,184.71 L406.03,184.97 L406.58,185.22 L407.12,185.48 L407.67,185.75 L408.21,186.01 L408.75,186.28 L409.29,186.55 L409.83,186.82 L410.37,187.09 L410.90,187.37 L411.44,187.65 L411.97,187.93 L412.51,188.21 L413.04,188.50 L413.57,188.79 L414.10,189.08 L414.63,189.38 L415.16,189.68 L415.68,189.98 L416.21,190.28 L416.73,190.59 L417.25,190.90 L417.77,191.22 L418.29,191.54 L418.81,191.86 L419.33,192.18 L419.84,192.51 L420.35,192.84 L420.87,193.18 L421.38,193.52 L421.89,193.86 L422.39,194.20 L422.90,194.55 L423.40,194.91 L423.91,195.26 L424.41,195.63 L424.91,195.99 L425.40,196.36 L425.90,196.74 L426.39,197.11" fill="none" stroke="#00ff00" stroke-width="2.4"/>
<path d="M315.90,148.36 L316.45,148.62 L317.00,148.87 L317.54,149.12 L318.09,149.37 L318.64,149.62 L319.18,149.88 L319.73,150.13 L320.28,150.38 L320.83,150.63 L321.38,150.88 L321.93,151.13 L322.48,151.38 L323.03,151.63 L323.59,151.88 L324.14,152.13 L324.69,152.38 L325.24,152.63 L325.80,152.88 L326.35,153.12 L326.91,153.37 L327.46,153.62 L328.01,153.87 L328.57,154.12 L329.13,154.36 L329.68,154.61 L330.24,154.86 L330.80,155.11 L331.35,155.35 L331.91,155.60 L332.47,155.84 L333.03,156.09 L333.59,156.34 L334.14,156.58 L334.70,156.83 L335.26,157.07 L335.82,157.32 L336.38,157.56 L336.94,157.81 L337.50,158.05 L338.07,158.30 L338.63,158.54 L339.19,158.78 L339.75,159.03 L340.31,159.27 L340.88,159.51 L341.44,159.76 L342.00,160.00 L342.56,160.24 L343.13,160.48 L343.69,160.73 L344.26,160.97 L344.82,161.21 L345.38,161.45 L345.95,161.69 L346.51,161.93 L347.08,162.17 L347.64,162.42 L348.21,162.66 L348.78,162.90 L349.34,163.14 L349.91,163.38 L350.47,163.62 L351.04,163.86 L351.61,164.09 L352.17,164.33 L352.74,164.57 L353.31,164.81 L353.87,165.05 L354.44,165.29 L355.01,165.53 L355.57,165.76 L356.14,166.00 L356.71,166.24 L357.28,166.48 L357.84,166.71 L358.41,166.95 L358.98,167.19 L359.55,167.43 L360.12,167.66 L360.68,167.90 L361.25,168.13 L361.82,168.37 L362.39,168.61 L362.96,168.84 L363.52,169.08 L364.09,169.31 L364.66,169.55 L365.23,169.78 L365.80,170.02 L366.37,170.25 L366.93,170.49 L367.50,170.72 L368.07,170.95 L368.64,171.19 L369.21,171.42 L369.78,171.65 L370.34,171.89 L370.91,172.12 L371.48,172.35 L372.05,172.59 L372.62,172.82 L373.18,173.05 L373.75,173.28 L374.32,173.52 L374.89,173.75 L375.46,173.98 L376.02,174.21 L376.59,174.44 L377.16,174.67 L377.72,174.90 L378.29,175.13 L378.86,175.37 L379.43,175.60 L379.99,175.83 L380.56,176.06 L381.13,176.29 L381.69,176.52 L382.26,176.75 L382.82,176.98 L383.39,177.21 L383.95,177.44 L384.52,177.67 L385.08,177.90 L385.65,178.13 L386.21,178.36 L386.78,178.59 L387.34,178.82 L387.90,179.05 L388.47,179.28 L389.03,179.52 L389.59,179.75 L390.16,179.98 L390.72,180.22 L391.28,180.45 L391.84,180.69 L392.40,180.92 L392.96,181.16 L393.52,181.40 L394.08,181.63 L394.64,181.87 L395.20,182.11 L395.76,182.35 L396.31,182.60 L396.87,182.84 L397.43,183.08 L397.98,183.33 L398.54,183.57 L399.10,183.82 L399.65,184.07 L400.20,184.32 L400.76,184.57 L401.31,184.82 L401.86,185.07 L402.41,185.33 L402.96,185.59 L403.51,185.84 L404.06,186.10 L404.61,186.36 L405.16,186.63 L405.71,186.89 L406.26,187.16 L406.80,187.42 L407.35,187.69 L407.89,187.96 L408.44,188.24 L408.98,188.51 L409.52,188.79 L410.06,189.07 L410.61,189.35 L411.15,189.63 L411.68,189.92 L412.22,190.20 L412.76,190.49 L413.30,190.78 L413.83,191.08 L414.37,191.37 L414.90,191.67 L415.44,191.97 L415.97,192.27 L416.50,192.58 L417.03,192.89 L417.56,193.20 L418.09,193.51 L418.62,193.83 L419.14,194.14 L419.67,194.47 L420.19,194.79 L420.72,195.11 L421.24,195.44 L421.76,195.78 L422.28,196.11 L422.80,196.45 L423.32,196.79 L423.84,197.13 L424.35,197.48 L424.87,197.83 L425.38,198.18 L425.89,198.54 L426.40,198.90" fill="none" stroke="#000" stroke-width="2.4"/>
</g>
<g stroke="#000"><line x1="64.6" y1="5.25" x2="64.6" y2="209.3" stroke-width="3.2"/><line x1="432.7" y1="5.25" x2="432.7" y2="209.3" stroke-width="3.2"/><line x1="62.99999999999999" y1="5.25" x2="434.3" y2="5.25" stroke-width="2.8"/><line x1="62.99999999999999" y1="209.3" x2="434.3" y2="209.3" stroke-width="2.8"/></g>
<g stroke="#000"><line x1="64.60" y1="209.3" x2="64.60" y2="205.4" stroke-width="3.1"/><line x1="64.60" y1="5.25" x2="64.60" y2="9.15" stroke-width="3.1"/><line x1="82.64" y1="209.3" x2="82.64" y2="206.60000000000002" stroke-width="2.9"/><line x1="82.64" y1="5.25" x2="82.64" y2="7.95" stroke-width="2.9"/><line x1="100.68" y1="209.3" x2="100.68" y2="206.60000000000002" stroke-width="2.9"/><line x1="100.68" y1="5.25" x2="100.68" y2="7.95" stroke-width="2.9"/><line x1="118.72" y1="209.3" x2="118.72" y2="206.60000000000002" stroke-width="2.9"/><line x1="118.72" y1="5.25" x2="118.72" y2="7.95" stroke-width="2.9"/><line x1="136.76" y1="209.3" x2="136.76" y2="206.60000000000002" stroke-width="2.9"/><line x1="136.76" y1="5.25" x2="136.76" y2="7.95" stroke-width="2.9"/><line x1="154.80" y1="209.3" x2="154.80" y2="205.4" stroke-width="3.1"/><line x1="154.80" y1="5.25" x2="154.80" y2="9.15" stroke-width="3.1"/><line x1="172.84" y1="209.3" x2="172.84" y2="206.60000000000002" stroke-width="2.9"/><line x1="172.84" y1="5.25" x2="172.84" y2="7.95" stroke-width="2.9"/><line x1="190.88" y1="209.3" x2="190.88" y2="206.60000000000002" stroke-width="2.9"/><line x1="190.88" y1="5.25" x2="190.88" y2="7.95" stroke-width="2.9"/><line x1="208.92" y1="209.3" x2="208.92" y2="206.60000000000002" stroke-width="2.9"/><line x1="208.92" y1="5.25" x2="208.92" y2="7.95" stroke-width="2.9"/><line x1="226.96" y1="209.3" x2="226.96" y2="206.60000000000002" stroke-width="2.9"/><line x1="226.96" y1="5.25" x2="226.96" y2="7.95" stroke-width="2.9"/><line x1="245.00" y1="209.3" x2="245.00" y2="205.4" stroke-width="3.1"/><line x1="245.00" y1="5.25" x2="245.00" y2="9.15" stroke-width="3.1"/><line x1="263.04" y1="209.3" x2="263.04" y2="206.60000000000002" stroke-width="2.9"/><line x1="263.04" y1="5.25" x2="263.04" y2="7.95" stroke-width="2.9"/><line x1="281.08" y1="209.3" x2="281.08" y2="206.60000000000002" stroke-width="2.9"/><line x1="281.08" y1="5.25" x2="281.08" y2="7.95" stroke-width="2.9"/><line x1="299.12" y1="209.3" x2="299.12" y2="206.60000000000002" stroke-width="2.9"/><line x1="299.12" y1="5.25" x2="299.12" y2="7.95" stroke-width="2.9"/><line x1="317.16" y1="209.3" x2="317.16" y2="206.60000000000002" stroke-width="2.9"/><line x1="317.16" y1="5.25" x2="317.16" y2="7.95" stroke-width="2.9"/><line x1="335.20" y1="209.3" x2="335.20" y2="205.4" stroke-width="3.1"/><line x1="335.20" y1="5.25" x2="335.20" y2="9.15" stroke-width="3.1"/><line x1="353.24" y1="209.3" x2="353.24" y2="206.60000000000002" stroke-width="2.9"/><line x1="353.24" y1="5.25" x2="353.24" y2="7.95" stroke-width="2.9"/><line x1="371.28" y1="209.3" x2="371.28" y2="206.60000000000002" stroke-width="2.9"/><line x1="371.28" y1="5.25" x2="371.28" y2="7.95" stroke-width="2.9"/><line x1="389.32" y1="209.3" x2="389.32" y2="206.60000000000002" stroke-width="2.9"/><line x1="389.32" y1="5.25" x2="389.32" y2="7.95" stroke-width="2.9"/><line x1="407.36" y1="209.3" x2="407.36" y2="206.60000000000002" stroke-width="2.9"/><line x1="407.36" y1="5.25" x2="407.36" y2="7.95" stroke-width="2.9"/><line x1="425.40" y1="209.3" x2="425.40" y2="205.4" stroke-width="3.1"/><line x1="425.40" y1="5.25" x2="425.40" y2="9.15" stroke-width="3.1"/><line x1="64.6" y1="208.30" x2="69.0" y2="208.30" stroke-width="2.6"/><line x1="432.7" y1="208.30" x2="428.3" y2="208.30" stroke-width="2.6"/><line x1="64.6" y1="198.37" x2="67.3" y2="198.37" stroke-width="2.6"/><line x1="432.7" y1="198.37" x2="430.0" y2="198.37" stroke-width="2.6"/><line x1="64.6" y1="188.44" x2="67.3" y2="188.44" stroke-width="2.6"/><line x1="432.7" y1="188.44" x2="430.0" y2="188.44" stroke-width="2.6"/><line x1="64.6" y1="178.51" x2="67.3" y2="178.51" stroke-width="2.6"/><line x1="432.7" y1="178.51" x2="430.0" y2="178.51" stroke-width="2.6"/><line x1="64.6" y1="168.58" x2="69.0" y2="168.58" stroke-width="2.6"/><line x1="432.7" y1="168.58" x2="428.3" y2="168.58" stroke-width="2.6"/><line x1="64.6" y1="158.65" x2="67.3" y2="158.65" stroke-width="2.6"/><line x1="432.7" y1="158.65" x2="430.0" y2="158.65" stroke-width="2.6"/><line x1="64.6" y1="148.72" x2="67.3" y2="148.72" stroke-width="2.6"/><line x1="432.7" y1="148.72" x2="430.0" y2="148.72" stroke-width="2.6"/><line x1="64.6" y1="138.79" x2="67.3" y2="138.79" stroke-width="2.6"/><line x1="432.7" y1="138.79" x2="430.0" y2="138.79" stroke-width="2.6"/><line x1="64.6" y1="128.86" x2="69.0" y2="128.86" stroke-width="2.6"/><line x1="432.7" y1="128.86" x2="428.3" y2="128.86" stroke-width="2.6"/><line x1="64.6" y1="118.93" x2="67.3" y2="118.93" stroke-width="2.6"/><line x1="432.7" y1="118.93" x2="430.0" y2="118.93" stroke-width="2.6"/><line x1="64.6" y1="109.00" x2="67.3" y2="109.00" stroke-width="2.6"/><line x1="432.7" y1="109.00" x2="430.0" y2="109.00" stroke-width="2.6"/><line x1="64.6" y1="99.07" x2="67.3" y2="99.07" stroke-width="2.6"/><line x1="432.7" y1="99.07" x2="430.0" y2="99.07" stroke-width="2.6"/><line x1="64.6" y1="89.14" x2="69.0" y2="89.14" stroke-width="2.6"/><line x1="432.7" y1="89.14" x2="428.3" y2="89.14" stroke-width="2.6"/><line x1="64.6" y1="79.21" x2="67.3" y2="79.21" stroke-width="2.6"/><line x1="432.7" y1="79.21" x2="430.0" y2="79.21" stroke-width="2.6"/><line x1="64.6" y1="69.28" x2="67.3" y2="69.28" stroke-width="2.6"/><line x1="432.7" y1="69.28" x2="430.0" y2="69.28" stroke-width="2.6"/><line x1="64.6" y1="59.35" x2="67.3" y2="59.35" stroke-width="2.6"/><line x1="432.7" y1="59.35" x2="430.0" y2="59.35" stroke-width="2.6"/><line x1="64.6" y1="49.42" x2="69.0" y2="49.42" stroke-width="2.6"/><line x1="432.7" y1="49.42" x2="428.3" y2="49.42" stroke-width="2.6"/><line x1="64.6" y1="39.49" x2="67.3" y2="39.49" stroke-width="2.6"/><line x1="432.7" y1="39.49" x2="430.0" y2="39.49" stroke-width="2.6"/><line x1="64.6" y1="29.56" x2="67.3" y2="29.56" stroke-width="2.6"/><line x1="432.7" y1="29.56" x2="430.0" y2="29.56" stroke-width="2.6"/><line x1="64.6" y1="19.63" x2="67.3" y2="19.63" stroke-width="2.6"/><line x1="432.7" y1="19.63" x2="430.0" y2="19.63" stroke-width="2.6"/><line x1="64.6" y1="9.70" x2="69.0" y2="9.70" stroke-width="2.6"/><line x1="432.7" y1="9.70" x2="428.3" y2="9.70" stroke-width="2.6"/></g>
<text transform="translate(154.8,228.3) scale(1.1,1)" font-size="16.1" text-anchor="middle" font-weight="normal">5</text>
<text transform="translate(245.0,228.3) scale(1.1,1)" font-size="16.1" text-anchor="middle" font-weight="normal">10</text>
<text transform="translate(335.2,228.3) scale(1.1,1)" font-size="16.1" text-anchor="middle" font-weight="normal">15</text>
<text transform="translate(425.4,228.3) scale(1.1,1)" font-size="16.1" text-anchor="middle" font-weight="normal">20</text>
<text transform="translate(61.0,213.8) scale(1.115,1)" font-size="15.6" text-anchor="end" font-weight="normal">0.00</text>
<text transform="translate(61.0,174.08) scale(1.115,1)" font-size="15.6" text-anchor="end" font-weight="normal">0.02</text>
<text transform="translate(61.0,134.36) scale(1.115,1)" font-size="15.6" text-anchor="end" font-weight="normal">0.04</text>
<text transform="translate(61.0,94.64) scale(1.115,1)" font-size="15.6" text-anchor="end" font-weight="normal">0.06</text>
<text transform="translate(61.0,54.92) scale(1.115,1)" font-size="15.6" text-anchor="end" font-weight="normal">0.08</text>
<text transform="translate(61.0,15.2) scale(1.115,1)" font-size="15.6" text-anchor="end" font-weight="normal">0.10</text>
<text transform="translate(186.9,29.1) scale(1.09,1)" font-size="18" text-anchor="middle" font-weight="bold">(e)</text>
<text transform="translate(14.7,114.2) scale(1.15,1) rotate(-90)" font-size="15">Y<tspan font-size="12" dy="3" dx="-2">2</tspan></text>
<text transform="translate(216.6,255.1) scale(1.16,1)" font-size="15.4">s(GeV<tspan font-size="11" dy="-6.5">2</tspan><tspan dy="6.5">)</tspan></text>
</svg>
</body></html>
